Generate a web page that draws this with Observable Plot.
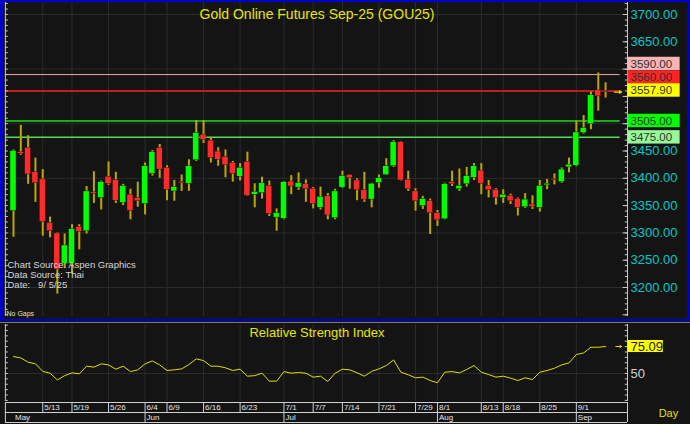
<!DOCTYPE html>
<html><head><meta charset="utf-8">
<script src="https://cdn.jsdelivr.net/npm/d3@7"></script>
<script src="https://cdn.jsdelivr.net/npm/@observablehq/plot@0.6"></script>
<style>
html,body{margin:0;padding:0;background:#141414;}
#wrap{position:relative;width:690px;height:424px;overflow:hidden;background:#141414;}
#wrap svg{position:absolute;left:0;display:block;max-width:none;}
#frame{position:absolute;left:0;top:0;width:684px;height:317px;border:solid #0000c8;border-width:2px 3px;pointer-events:none;}
#sep{position:absolute;left:0;top:322px;width:690px;height:1px;background:#7a7a7a;}
g[aria-label="title"] text{word-spacing:5px;}
g[aria-label="rsititle"] text{word-spacing:4px;}
g[aria-label="source"] text{word-spacing:1.5px;}
</style></head><body><div id="wrap"></div>
<script>
// ---- data (one entry per trading day, May 7 .. Sep 5 2025) ----
const opens  = [3340,3448,3456,3411,3398,3318,3299,3243,3243,3311, 3303,3374,3364,3403,3397,3355,3370,3364,3353,3408, 3456,3419,3376,3393,3390,3433,3480,3469,3449,3439, 3428,3403,3430,3370,3373,3386,3328,3326,3394,3383, 3389,3381,3346,3367,3327,3383,3406,3396,3378,3361, 3391,3406,3422,3466,3397,3376,3349,3358,3336,3325, 3393,3380,3389,3401,3414,3386,3379,3364,3368,3362, 3347,3352,3346,3387,3398,3393,3420,3423,3483,3499, 3561,3560];
const highs  = [3452,3497,3478,3437,3416,3329,3300,3298,3315,3315, 3385,3412,3395,3430,3411,3389,3380,3393,3428,3451, 3462,3423,3396,3406,3434,3506,3506,3475,3456,3452, 3431,3427,3448,3390,3402,3395,3344,3394,3405,3410, 3397,3383,3384,3372,3380,3413,3406,3399,3411,3391, 3406,3436,3469,3467,3413,3381,3367,3362,3341,3391, 3413,3417,3420,3427,3427,3396,3381,3379,3371,3364, 3372,3368,3396,3398,3408,3419,3437,3505,3515,3558, 3593,3575];
const lows   = [3292,3442,3389,3356,3294,3291,3188,3235,3225,3269, 3298,3354,3342,3387,3354,3350,3324,3347,3333,3404, 3400,3359,3358,3376,3376,3431,3464,3428,3422,3401, 3393,3395,3367,3346,3362,3330,3303,3324,3370,3378, 3356,3344,3342,3324,3324,3381,3380,3359,3356,3346, 3382,3405,3420,3395,3376,3340,3343,3297,3312,3324, 3385,3376,3384,3396,3370,3364,3351,3354,3352,3331, 3345,3343,3338,3379,3388,3391,3410,3421,3481,3489, 3523,3547];
const closes = [3450,3445,3407,3391,3320,3303,3233,3277,3307,3302, 3376,3372,3393,3390,3359,3386,3340,3358,3422,3448, 3416,3379,3384,3391,3422,3483,3470,3437,3434,3424, 3408,3419,3368,3375,3391,3335,3336,3393,3385,3391, 3380,3353,3366,3332,3376,3404,3400,3378,3361,3390, 3400,3422,3466,3396,3380,3358,3362,3336,3323,3389, 3389,3386,3404,3422,3390,3378,3364,3370,3358,3346, 3361,3348,3386,3390,3397,3416,3425,3484,3492,3552, 3550,3557.9];
const rsi    = [65.7,64.5,60.5,59,52,50.3,44,48,50.6,49.7, 56.8,55.9,59,58,54,56.8,51.8,53.4,59,61.7, 58,52.8,53.4,54.3,58.3,63.6,62,56.8,56.8,55.3, 52.8,54,47.5,48,50.3,42.9,42.9,51.8,50.3,50.9, 50.3,46.6,47.5,42.6,50.3,54,53.4,50.6,47.5,52, 54.3,57.4,62.6,51.2,48.8,46,46.6,43.5,41.4,51.2, 51.8,50.6,53.7,57.4,51.2,49,46.6,47.5,45.7,43.5, 46,44.4,51.2,52.8,54.9,58,59.9,67.6,69.1,74.4, 74.4,75.09];
const tickIdx    = [4,8,13,18,21,26,31,37,41,45,50,55,58,64,67,72,77];
const tickLabels = ["5/13","5/19","5/26","6/4","6/9","6/16","6/23","7/1","7/7","7/14","7/21","7/29","8/1","8/13","8/18","8/25","9/1"];
const monthIdx    = [0,18,37,58,77];
const monthLabels = ["May","Jun","Jul","Aug","Sep"];
const priceLabels = [3200,3250,3300,3350,3400,3450,3650,3700];
const levelValues = [3590,3560,3505,3475];
const levelLine   = ["#e6a8a8","#c41c1c","#12b012","#58dc58"];
const levelWidth  = [1,2,2,1.5];
const levelBox    = ["#f6b4b4","#ff2424","#00ff00","#98f898"];
const levelShift  = [-10.6,-13.4,0,0];
const lastValue = 3557.90;
const title = "Gold Online Futures Sep-25 (GOU25)";
const sourceText = "Chart Source: Aspen Graphics\nData Source: Thai\nDate:   9/ 5/25";

// ---- build ----
const FONT = "'Liberation Sans', Arial, sans-serif";
const X0 = -0.958, X1 = 84.0;
const YLO = 3146.9, YHI = 3722;
const bars = opens.map((o,i)=>{
  const c = closes[i];
  let b1 = Math.max(o,c), b2 = Math.min(o,c);
  if (b1 - b2 < 2.6) { const m=(b1+b2)/2; b1=m+1.3; b2=m-1.3; }
  return {i, o, h:highs[i], l:lows[i], c, b1, b2, up: c > o};
});
const grid = "#2b2b2b", axisC = "#c8c8c8";
const wrap = document.getElementById("wrap");

const levelMarks = [];
levelValues.forEach((v,k)=>{
  levelMarks.push(Plot.ruleY([v], {x1:X0, x2:83, stroke:levelLine[k], strokeWidth:levelWidth[k]}));
});
const boxes = levelValues.map((v,k)=>({v, bg:levelBox[k], dy:levelShift[k]}));
boxes.push({v:lastValue, bg:"#ffff00", dy:-1.6});
const boxMarks = [];
boxes.forEach(b=>{
  boxMarks.push(Plot.rect([b], {x1:X1+0.07, x2:X1+7.2, y1:b.v-12.3, y2:b.v+12.3, fill:b.bg, dy:b.dy}));
  boxMarks.push(Plot.text([b], {x:X1, y:"v", text:d=>d.v.toFixed(2), dx:3, dy:b.dy, textAnchor:"start", fill:"#303030", fontSize:11.5}));
});

const main = Plot.plot({
  width:690, height:320, marginLeft:6, marginRight:63, marginTop:2, marginBottom:4,
  style:{background:"#141414", fontFamily:FONT, overflow:"visible"},
  x:{type:"linear", domain:[X0,X1], axis:null},
  y:{domain:[YLO,YHI], axis:null},
  color:{type:"identity"},
  marks:[
    Plot.ruleY(d3.range(3200,3701,100), {x1:X0, x2:X1, stroke:grid}),
    Plot.ruleX(tickIdx, {stroke:grid}),
    ...levelMarks,
    Plot.ruleX(bars, {x:"i", y1:"l", y2:"h", stroke:"#bca800", strokeWidth:2}),
    Plot.rect(bars, {x1:d=>d.i-0.41, x2:d=>d.i+0.41, y1:"b2", y2:"b1", fill:d=>d.up?"#00ff00":"#ff2b2b", stroke:"#0a0a0a", strokeWidth:0.4}),
    Plot.arrow([lastValue], {x1:82.2, x2:83.2, y1:d=>d, y2:d=>d, stroke:"#e8d800", headLength:4, strokeWidth:1.2}),
    Plot.ruleX([X1], {stroke:axisC}),
    Plot.ruleY(d3.range(3150,3721,10), {x1:X1-0.3, x2:X1, stroke:axisC}),
    Plot.ruleY(d3.range(3150,3721,50), {x1:X1-0.6, x2:X1, stroke:axisC}),
    Plot.ruleX([X0-0.15], {stroke:axisC}),
    Plot.ruleY(d3.range(3150,3721,10), {x1:X0-0.15, x2:X0+0.25, stroke:axisC}),
    Plot.text(priceLabels, {x:X1, y:d=>d, text:d=>d.toFixed(2), dx:3, textAnchor:"start", fill:"#00c8c8", fontSize:13}),
    ...boxMarks,
    Plot.text([title], {frameAnchor:"top", dy:12, lineAnchor:"middle", fill:"#e6e600", fontSize:14, ariaLabel:"title"}),
    Plot.text([sourceText], {frameAnchor:"top-left", dx:1, dy:272.3, lineAnchor:"middle", lineHeight:1.05, fontSize:9.5, fill:"#d8d8d8", textAnchor:"start", ariaLabel:"source"}),
    Plot.text(["No Gaps"], {frameAnchor:"bottom-left", dy:-3, lineAnchor:"middle", fontSize:7, fill:"#e8e8b0", textAnchor:"start"})
  ]
});
main.style.top = "0px";
wrap.appendChild(main);

const RLO = 23.98, RHI = 95.54;
const rsiPlot = Plot.plot({
  width:690, height:82, marginLeft:6, marginRight:63, marginTop:4, marginBottom:1,
  style:{background:"#141414", fontFamily:FONT, overflow:"visible"},
  x:{type:"linear", domain:[X0,X1], axis:null},
  y:{domain:[RLO,RHI], axis:null},
  color:{type:"identity"},
  marks:[
    Plot.ruleY([50], {x1:X0, x2:X1, stroke:grid}),
    Plot.ruleX(tickIdx, {stroke:grid}),
    Plot.line(rsi, {x:(d,i)=>i, y:d=>d, stroke:"#e0e000", strokeWidth:1}),
    Plot.ruleX([X1], {stroke:axisC}),
    Plot.ruleY(d3.range(25,96,5), {x1:X1-0.3, x2:X1, stroke:axisC}),
    Plot.ruleX([X0-0.15], {stroke:axisC}),
    Plot.ruleY(d3.range(25,96,5), {x1:X0-0.15, x2:X0+0.25, stroke:axisC}),
    Plot.text([50], {x:X1, y:d=>d, text:d=>String(d), dx:3, textAnchor:"start", fill:"#d0d0d0", fontSize:13}),
    Plot.rect([rsi[rsi.length-1]], {x1:X1+0.07, x2:X1+4.9, y1:d=>d-5.6, y2:d=>d+5.6, fill:"#ffff00"}),
    Plot.text([rsi[rsi.length-1]], {x:X1, y:d=>d, text:d=>d.toFixed(2), dx:3, textAnchor:"start", fill:"#202020", fontSize:13}),
    Plot.arrow([rsi[rsi.length-1]], {x1:82.4, x2:83.2, y1:d=>d, y2:d=>d, stroke:"#e8d800", headLength:3, strokeWidth:1}),
    Plot.text(["Relative Strength Index"], {frameAnchor:"top", dy:8.5, lineAnchor:"middle", fill:"#e6e600", fontSize:13, ariaLabel:"rsititle"})
  ]
});
rsiPlot.style.top = "320px";
wrap.appendChild(rsiPlot);

const dateAxis = Plot.plot({
  width:690, height:22, marginLeft:6, marginRight:63, marginTop:0, marginBottom:0,
  style:{background:"#141414", fontFamily:FONT, overflow:"visible"},
  x:{type:"linear", domain:[X0,X1], axis:null},
  y:{domain:[0,2], range:[0,20], axis:null},
  color:{type:"identity"},
  marks:[
    Plot.ruleY([0,1,2], {x1:X0-0.15, x2:X1, stroke:"#d0d0d0"}),
    Plot.ruleX([X0-0.15, X1], {y1:0, y2:2, stroke:"#d0d0d0"}),
    Plot.ruleX(tickIdx, {y1:0, y2:1, stroke:"#d0d0d0"}),
    Plot.ruleX(monthIdx.slice(1), {y1:1, y2:2, stroke:"#d0d0d0"}),
    Plot.text(tickIdx, {x:d=>d, y:0.5, text:(d,i)=>tickLabels[i], dx:1.5, textAnchor:"start", fontSize:8, fill:"#e4e4e4"}),
    Plot.text(monthIdx, {x:d=>d, y:1.5, text:(d,i)=>monthLabels[i], dx:1.5, textAnchor:"start", fontSize:8, fill:"#e4e4e4"}),
    Plot.text(["Day"], {x:89.6, y:1.1, fill:"#e0e000", fontSize:11})
  ]
});
dateAxis.style.top = "402px";
wrap.appendChild(dateAxis);

const frame = document.createElement("div"); frame.id="frame"; wrap.appendChild(frame);
const sep = document.createElement("div"); sep.id="sep"; wrap.appendChild(sep);
</script></body></html>
